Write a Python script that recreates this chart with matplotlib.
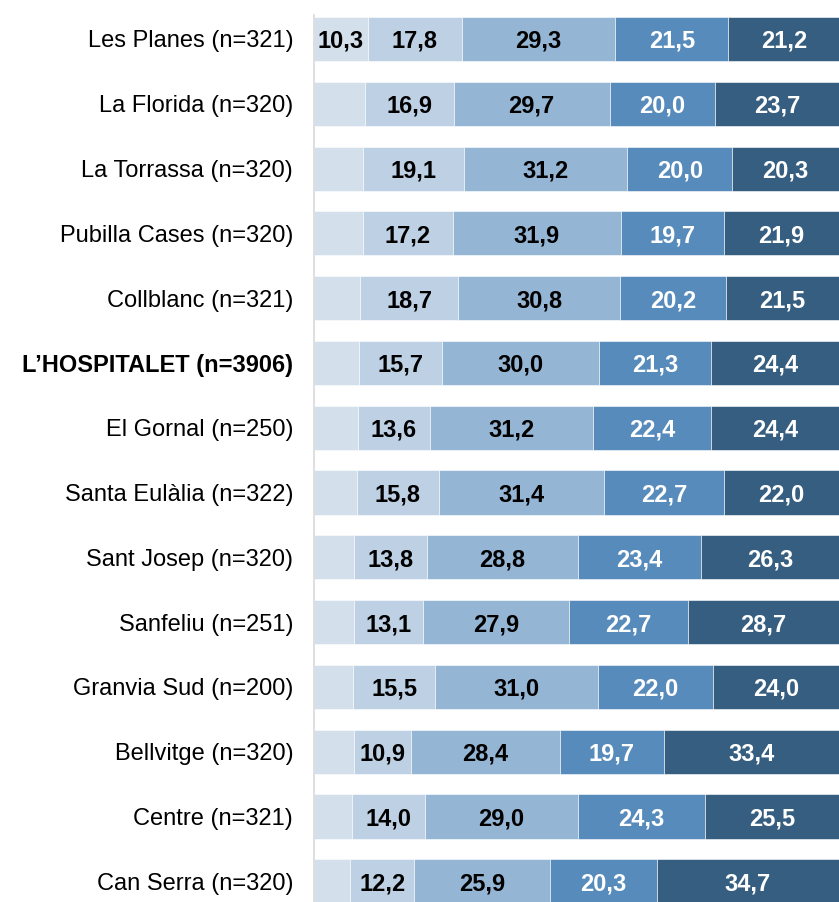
import matplotlib

matplotlib.use('Agg')
import matplotlib.pyplot as plt
import numpy as np

plt.rcParams['font.family'] = ['Liberation Sans', 'DejaVu Sans']

# neighbourhoods, top to bottom
categories = ['Les Planes (n=321)', 'La Florida (n=320)', 'La Torrassa (n=320)',
              'Pubilla Cases (n=320)', 'Collblanc (n=321)', 'L\u2019HOSPITALET (n=3906)',
              'El Gornal (n=250)', 'Santa Eulàlia (n=322)', 'Sant Josep (n=320)',
              'Sanfeliu (n=251)', 'Granvia Sud (n=200)', 'Bellvitge (n=320)',
              'Centre (n=321)', 'Can Serra (n=320)']

# percentages per segment (left to right)
seg1 = [10.3, 9.7, 9.4, 9.3, 8.8, 8.6, 8.4, 8.1, 7.7, 7.6, 7.5, 7.6, 7.2, 6.9]
seg2 = [17.8, 16.9, 19.1, 17.2, 18.7, 15.7, 13.6, 15.8, 13.8, 13.1, 15.5, 10.9, 14.0, 12.2]
seg3 = [29.3, 29.7, 31.2, 31.9, 30.8, 30.0, 31.2, 31.4, 28.8, 27.9, 31.0, 28.4, 29.0, 25.9]
seg4 = [21.5, 20.0, 20.0, 19.7, 20.2, 21.3, 22.4, 22.7, 23.4, 22.7, 22.0, 19.7, 24.3, 20.3]
seg5 = [21.2, 23.7, 20.3, 21.9, 21.5, 24.4, 24.4, 22.0, 26.3, 28.7, 24.0, 33.4, 25.5, 34.7]

colors = ['#d3e0ec', '#bed1e4', '#95b5d4', '#568bbc', '#365e80']
text_colors = ['black', 'black', 'black', 'white', 'white']

fig = plt.figure(figsize=(8.39, 9.02), dpi=100)
ax = fig.add_axes([314 / 839, 0, 1 - 314 / 839, 1 - 15 / 902])

y = np.arange(len(categories))
left = np.zeros(len(categories))
for vals, col, tcol in zip([seg1, seg2, seg3, seg4, seg5], colors, text_colors):
    vals = np.array(vals)
    ax.barh(y, vals, left=left, height=0.68, color=col, edgecolor='white', linewidth=0.4)
    for yi, (l, v) in enumerate(zip(left, vals)):
        if v >= 10:
            ax.text(l + v / 2, yi, f'{v:.1f}'.replace('.', ','), ha='center',
                    va='center_baseline', color=tcol, fontsize=17, fontweight='bold')
    left += vals

ax.set_xlim(0, 100)
ax.set_ylim(len(categories) - 1 + 0.32, -0.37)
ax.set_yticks(y)
ax.set_yticklabels(categories, fontsize=17, va='center_baseline')
for lbl in ax.get_yticklabels():
    if 'HOSPITALET' in lbl.get_text():
        lbl.set_fontweight('bold')
ax.tick_params(axis='y', length=0, pad=15)
ax.set_xticks([])
for s in ['top', 'right', 'bottom']:
    ax.spines[s].set_visible(False)
ax.spines['left'].set_color('#d9d9d9')
ax.spines['left'].set_linewidth(1.2)

fig.savefig('out.png', dpi=100)
